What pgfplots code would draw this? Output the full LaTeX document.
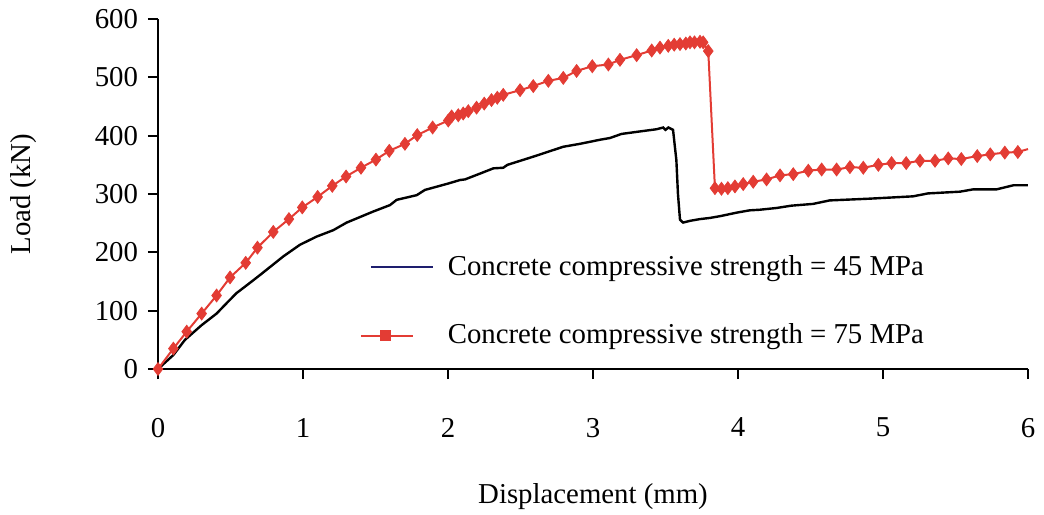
\documentclass[border=0pt]{standalone}
\usepackage{pgfplots}
\pgfplotsset{compat=1.18}
\usepackage{fontspec}
\setmainfont{Liberation Serif}
\definecolor{cred}{RGB}{227,60,52}
\definecolor{cnavy}{RGB}{30,30,110}
\begin{document}
\begin{tikzpicture}
\fontsize{14.4}{17}\selectfont
\begin{axis}[
  scale only axis, width=435pt, height=175pt,
  xmin=0, xmax=6, ymin=0, ymax=600,
  axis lines*=left,
  axis line style={black, line width=1.2pt},
  xtick={0,1,...,6}, ytick={0,100,...,600},
  tick align=outside, major tick length=5pt,
  tick style={black, line width=1pt},
  /pgf/number format/assume math mode=true,
  ticklabel style={font=\fontsize{14.4}{17}\selectfont},
  xticklabel style={yshift=-14.5pt},
  label style={font=\fontsize{14.4}{17}\selectfont},
  xlabel={Displacement (mm)},
  ylabel={Load (kN)},
  xlabel style={yshift=-13pt},
  ylabel style={yshift=19.5pt},
  clip=false,
  legend style={at={(axis cs:1.389,196)}, anchor=north west, draw=none, fill=none,
    font=\fontsize{14.4}{17}\selectfont, row sep=22pt, inner sep=0pt,
    nodes={inner sep=0pt}},
  legend cell align=left,
]
\coordinate (bl) at (rel axis cs:0,0);
\addplot[black, line width=1.2pt, forget plot] coordinates {
(0,0) (0.106,24) (0.186,50) (0.3,75) (0.404,95) (0.47,112) (0.541,130) (0.62,145)
(0.703,161) (0.864,193) (0.979,213) (1.094,227) (1.209,238) (1.301,251) (1.485,270)
(1.6,281) (1.646,290) (1.784,298) (1.841,307) (2.002,318) (2.083,324) (2.117,325)
(2.221,335) (2.313,344) (2.381,345) (2.41,350) (2.588,364) (2.795,381) (2.91,386)
(3.048,393) (3.117,396) (3.197,403) (3.346,408) (3.438,411) (3.484,414) (3.50,410)
(3.52,414) (3.552,410) (3.575,358) (3.586,300) (3.6,256) (3.621,251) (3.669,254)
(3.738,257) (3.807,259) (3.876,262) (3.99,268) (4.08,272) (4.149,273) (4.265,276)
(4.368,280) (4.517,283) (4.632,289) (4.908,292) (5.207,296) (5.31,301) (5.531,304)
(5.623,308) (5.784,308) (5.9,315) (6.0,315)
};
\addplot[cred, line width=1pt, forget plot] coordinates {
(0,0) (0.106,35) (0.198,64) (0.301,95) (0.404,126) (0.497,157) (0.605,182) (0.686,208)
(0.795,235) (0.903,257) (0.995,277) (1.101,295) (1.202,314) (1.297,330) (1.400,345)
(1.503,359) (1.595,374) (1.703,386) (1.788,401) (1.894,414) (2.002,426) (2.025,433)
(2.071,435) (2.105,438) (2.140,442) (2.197,448) (2.25,455) (2.30,461) (2.34,465)
(2.381,470) (2.497,478) (2.588,485) (2.692,494) (2.795,499) (2.887,511) (2.995,519)
(3.106,522) (3.186,530) (3.301,538) (3.405,546) (3.462,551) (3.519,554) (3.56,556)
(3.600,557) (3.64,558) (3.669,560) (3.70,560) (3.738,561) (3.76,560) (3.795,545)
(3.841,310) (3.886,309) (3.93,310) (3.979,313) (4.036,317) (4.105,321) (4.197,325)
(4.290,332) (4.381,334) (4.485,340) (4.577,342) (4.68,342) (4.772,346) (4.864,345)
(4.968,350) (5.059,353) (5.16,353) (5.255,357) (5.359,357) (5.45,361) (5.54,360)
(5.65,365) (5.74,368) (5.84,371) (5.93,372) (6.0,377)
};
\addplot[only marks, mark=diamond*, mark size=3.2pt, cred, forget plot] coordinates {
(0,0) (0.106,35) (0.198,64) (0.301,95) (0.404,126) (0.497,157) (0.605,182) (0.686,208)
(0.795,235) (0.903,257) (0.995,277) (1.101,295) (1.202,314) (1.297,330) (1.400,345)
(1.503,359) (1.595,374) (1.703,386) (1.788,401) (1.894,414) (2.002,426) (2.025,433)
(2.071,435) (2.105,438) (2.140,442) (2.197,448) (2.25,455) (2.30,461) (2.34,465)
(2.381,470) (2.497,478) (2.588,485) (2.692,494) (2.795,499) (2.887,511) (2.995,519)
(3.106,522) (3.186,530) (3.301,538) (3.405,546) (3.462,551) (3.519,554) (3.56,556)
(3.600,557) (3.64,558) (3.669,560) (3.70,560) (3.738,561) (3.76,560) (3.795,545)
(3.841,310) (3.886,309) (3.93,310) (3.979,313) (4.036,317) (4.105,321) (4.197,325)
(4.290,332) (4.381,334) (4.485,340) (4.577,342) (4.68,342) (4.772,346) (4.864,345)
(4.968,350) (5.059,353) (5.16,353) (5.255,357) (5.359,357) (5.45,361) (5.54,360)
(5.65,365) (5.74,368) (5.84,371) (5.93,372)
};
\addlegendimage{legend image code/.code={
  \path[draw=none] (0pt,0pt) -- (43.5pt,0pt);
  \draw[cnavy, line width=1pt] (5pt,0pt) -- (36pt,0pt);}}
\addlegendentry{Concrete compressive strength = 45 MPa}
\addlegendimage{legend image code/.code={
  \path[draw=none] (0pt,0pt) -- (43.5pt,0pt);
  \draw[cred, line width=1pt] (0pt,0pt) -- (26pt,0pt);
  \fill[cred] (10pt,-2.5pt) rectangle (15pt,2.5pt);}}
\addlegendentry{Concrete compressive strength = 75 MPa}
\end{axis}
\pgfresetboundingbox
\path (bl) ++(-79pt,-72.5pt) rectangle ++(522pt,257pt);
\end{tikzpicture}
\end{document}
